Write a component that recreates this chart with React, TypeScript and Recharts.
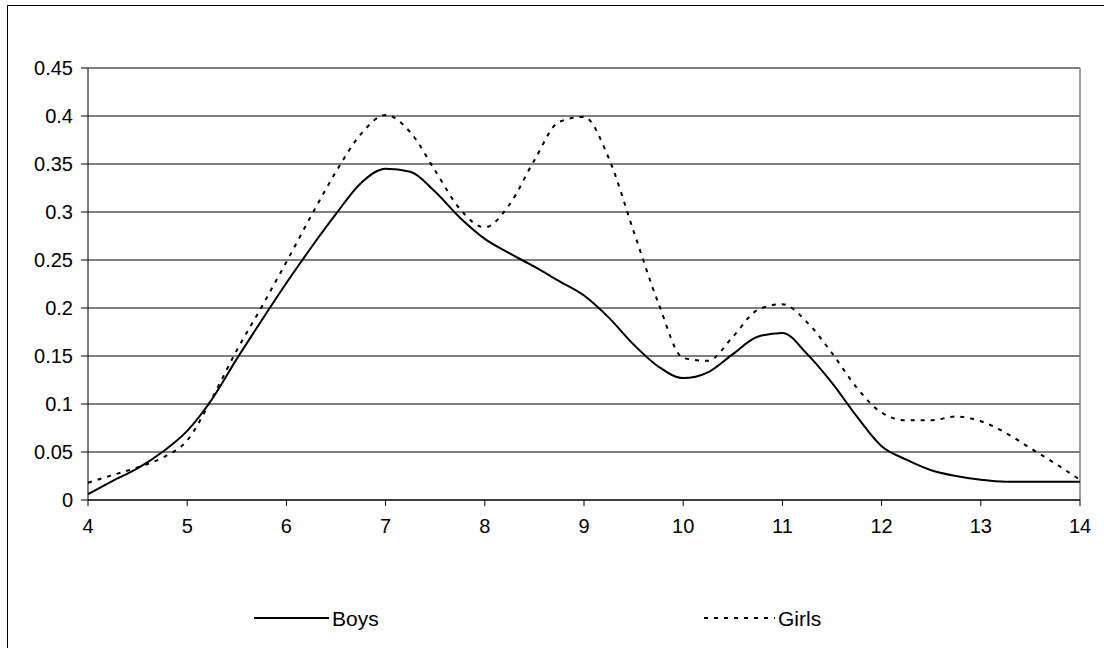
import React from "react";
import { LineChart, Line, XAxis, YAxis, CartesianGrid, ReferenceLine, Legend } from "recharts";

const ages = [
  4, 4.25, 4.5, 4.75, 5, 5.25, 5.5, 5.75, 6, 6.25, 6.5, 6.75, 7, 7.25, 7.5, 7.75,
  8, 8.25, 8.5, 8.75, 9, 9.25, 9.5, 9.75, 10, 10.25, 10.5, 10.75, 11, 11.25, 11.5, 11.75,
  12, 12.25, 12.5, 12.75, 13, 13.25, 13.5, 13.75, 14,
];
const boys = [
  0.006, 0.02, 0.033, 0.05, 0.072, 0.105, 0.147, 0.187, 0.226, 0.263, 0.298, 0.33, 0.345, 0.342, 0.321, 0.294,
  0.272, 0.257, 0.243, 0.228, 0.213, 0.19, 0.162, 0.139, 0.127, 0.133, 0.152, 0.17, 0.174, 0.152, 0.122, 0.087,
  0.056, 0.042, 0.031, 0.025, 0.021, 0.019, 0.019, 0.019, 0.019,
];
const girls = [
  0.018, 0.026, 0.034, 0.044, 0.062, 0.106, 0.156, 0.201, 0.248, 0.296, 0.342, 0.381, 0.401, 0.383, 0.343, 0.303,
  0.284, 0.308, 0.354, 0.394, 0.399, 0.356, 0.28, 0.205, 0.148, 0.145, 0.17, 0.198, 0.204, 0.185, 0.153, 0.117,
  0.091, 0.083, 0.083, 0.087, 0.082, 0.07, 0.054, 0.038, 0.021,
];
const xTicks = [4, 5, 6, 7, 8, 9, 10, 11, 12, 13, 14];
const yTicks = [0, 0.05, 0.1, 0.15, 0.2, 0.25, 0.3, 0.35, 0.4, 0.45];
const seriesNames = ["Boys", "Girls"];

const data = ages.map((a, i) => ({ age: a, Boys: boys[i], Girls: girls[i] }));

const FONT = "'Liberation Sans', Arial, sans-serif";
const DASH = "4 6";

const LegendContent = () => (
  <svg width={1104} height={50} style={{ display: "block" }}>
    <line x1={254} y1={23} x2={329} y2={23} stroke="#000" strokeWidth={2} />
    <text x={332} y={31} fontFamily={FONT} fontSize={21} fill="#000">{seriesNames[0]}</text>
    <line x1={704} y1={23} x2={775} y2={23} stroke="#000" strokeWidth={2} strokeDasharray={DASH} />
    <text x={778} y={31} fontFamily={FONT} fontSize={21} fill="#000">{seriesNames[1]}</text>
  </svg>
);

export default function App() {
  return (
    <div style={{ position: "absolute", left: 0, top: 0, width: 1104, height: 648, overflow: "hidden", background: "#fff" }}>
      <div style={{ position: "absolute", left: 7, top: 5, width: 1200, height: 800, border: "1px solid #000", boxSizing: "border-box" }} />
      <div style={{ position: "absolute", left: 0, top: 0 }}>
        <LineChart width={1104} height={648} data={data} margin={{ top: 68, right: 24, left: 28, bottom: 118 }}>
          <CartesianGrid vertical={false} stroke="#000" strokeWidth={1} />
          <XAxis
            dataKey="age"
            type="number"
            domain={[4, 14]}
            ticks={xTicks}
            interval={0}
            height={30}
            axisLine={{ stroke: "#000", strokeWidth: 1 }}
            tickLine={{ stroke: "#000", strokeWidth: 1 }}
            tickSize={6}
            tickMargin={13}
            tick={{ fill: "#000", fontSize: 20, fontFamily: FONT }}
          />
          <YAxis
            type="number"
            domain={[0, 0.45]}
            ticks={yTicks}
            interval={0}
            width={60}
            axisLine={{ stroke: "#000", strokeWidth: 1 }}
            tickLine={{ stroke: "#000", strokeWidth: 1 }}
            tickSize={7}
            tickMargin={8}
            tick={{ fill: "#000", fontSize: 20, fontFamily: FONT }}
          />
          <ReferenceLine y={0.45} stroke="#808080" strokeWidth={1.5} />
          <ReferenceLine x={14} stroke="#808080" strokeWidth={1.5} />
          <Legend
            layout="horizontal"
            align="center"
            verticalAlign="middle"
            content={<LegendContent />}
            wrapperStyle={{ left: 0, top: 595, width: 1104, height: 50 }}
          />
          <Line
            type="monotone"
            dataKey="Girls"
            stroke="#000"
            strokeWidth={2}
            strokeDasharray={DASH}
            dot={false}
            activeDot={false}
            isAnimationActive={false}
          />
          <Line
            type="monotone"
            dataKey="Boys"
            stroke="#000"
            strokeWidth={2}
            dot={false}
            activeDot={false}
            isAnimationActive={false}
          />
        </LineChart>
      </div>
    </div>
  );
}
